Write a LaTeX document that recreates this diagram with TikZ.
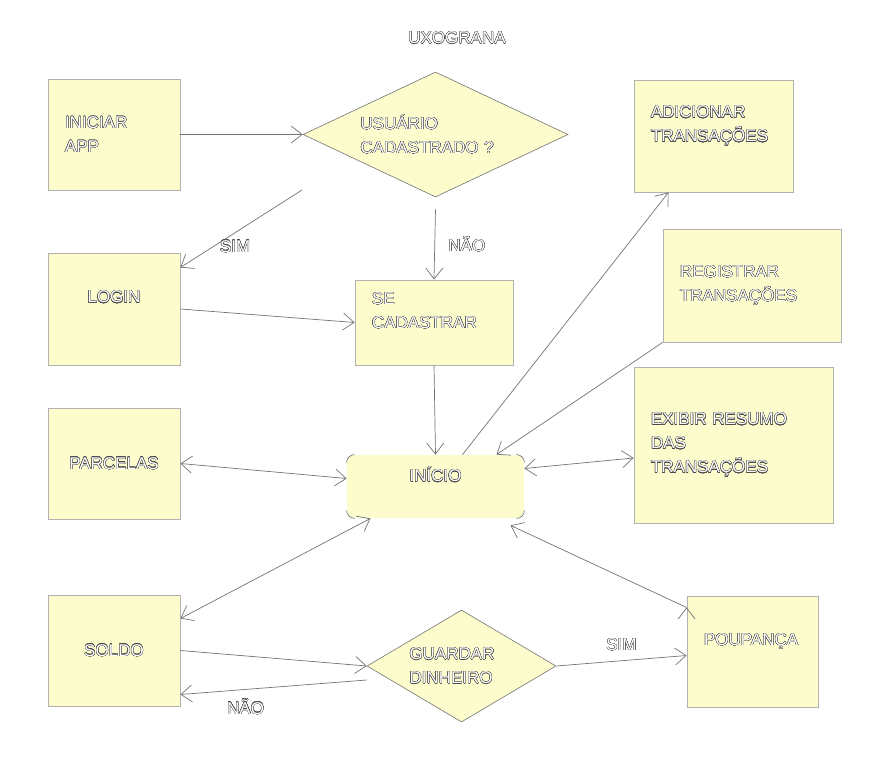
\documentclass[tikz,border=0pt]{standalone}
\usepackage{fontspec}
\setmainfont{Liberation Sans}
\usepackage{contour}
\contourlength{0.3pt}
\usetikzlibrary{shapes.geometric,arrows.meta}
\definecolor{boxfill}{RGB}{252,252,205}
\newcommand{\ct}[1]{\contour{black!70}{#1}}

\begin{document}
\begin{tikzpicture}[x=1pt,y=-1pt,>={Straight Barb[length=11pt,width=17pt]},
    box/.style={rectangle,draw=black!30,line width=0.8pt,fill=boxfill,inner xsep=17pt,inner ysep=0pt,align=left,text=white,font=\fontsize{17}{24}\selectfont},
    decision/.style={diamond,draw=black!55,line width=0.6pt,fill=boxfill,inner sep=0pt,align=left,text=white,font=\fontsize{17}{24}\selectfont},
    seta/.style={draw=black!55,line width=0.7pt},
    rotulo/.style={text=white,font=\fontsize{17}{20}\selectfont}]
    \useasboundingbox (0,0) rectangle (873,760);

    \node[rotulo] (titulo) at (457,38) {\ct{UXOGRANA}};
    \node[box,text width=98pt,minimum height=111pt] (iniciar) at (114,134.5) {\ct{INICIAR}\\\ct{APP}};
    \node[decision,aspect=2.12,text width=150pt,minimum width=265pt,minimum height=125pt] (usuario) at (435.5,134.5) {\ct{USUÁRIO}\\\ct{CADASTRADO ?}};
    \node[box,text width=125pt,minimum height=112pt] (adicionar) at (713.5,136) {\ct{ADICIONAR}\\\ct{TRANSAÇÕES}\\\mbox{}};
    \node[box,text width=98pt,minimum height=112pt,align=center] (login) at (114,309) {\ct{LOGIN}\\\mbox{}};
    \node[box,text width=124pt,minimum height=85pt] (cadastrar) at (434,322.5) {\ct{SE}\\\ct{CADASTRAR}\\\mbox{}};
    \node[box,text width=144pt,minimum height=113pt] (registrar) at (752,285.5) {\ct{REGISTRAR}\\\ct{TRANSAÇÕES}};
    \node[box,text width=98pt,minimum height=111pt,align=center] (parcelas) at (114,463.5) {\ct{PARCELAS}};
    \node[box,draw=none,rounded corners=8pt,text width=143pt,minimum height=63pt,align=center] (inicio) at (435.5,486.5) {\ct{INÍCIO}\\\mbox{}};
    \node[box,text width=165pt,minimum height=156pt] (exibir) at (733.5,445) {\ct{EXIBIR RESUMO}\\\ct{DAS}\\\ct{TRANSAÇÕES}};
    \node[box,text width=98pt,minimum height=111pt,align=center] (soldo) at (114,650.5) {\ct{SOLDO}};
    \node[decision,aspect=1.69,text width=104pt,minimum width=189pt,minimum height=112pt] (guardar) at (461.5,666) {\ct{GUARDAR}\\\ct{DINHEIRO}};
    \node[box,text width=97pt,minimum height=111pt] (poupanca) at (752.5,651.5) {\ct{POUPANÇA}\\\mbox{}};

    % cantos do inicio
    \foreach \canto/\dx/\dy/\a in {north east/-8/0/90, north west/0/-8/180, south west/8/0/270, south east/0/8/0}
        \draw[black!60,line width=0.6pt] ([xshift=\dx pt,yshift=\dy pt]inicio.\canto) arc[start angle=\a,delta angle=-90,radius=8pt];

    \coordinate (simini) at (302,190);
    \path[->,seta]
    (iniciar) edge (usuario)
    (simini) edge node[rotulo,pos=0.55,below=4pt] {\ct{SIM}} (login.32)
    ([yshift=-12pt]usuario.south) edge node[rotulo,right=10pt] {\ct{NÃO}} (cadastrar.north)
    (login.east) edge (cadastrar.west)
    (cadastrar.south) edge (inicio.north)
    ([xshift=27pt]inicio.north) edge ([xshift=-45pt]adicionar.south)
    (registrar.south west) edge ([xshift=61pt]inicio.north)
    (parcelas.east) edge[<->] ([yshift=8pt]inicio.west)
    ([yshift=18pt]inicio.east) edge[<->] ([yshift=-13pt]exibir.west)
    ([xshift=-65pt]inicio.south) edge[<->] ([yshift=32pt]soldo.east)
    (soldo.east) edge (guardar.west)
    ([yshift=-14pt]guardar.west) edge node[rotulo,pos=0.65,below=6pt] {\ct{NÃO}} ([yshift=-44pt]soldo.east)
    (guardar.east) edge node[rotulo,above=6pt] {\ct{SIM}} ([yshift=-4pt]poupanca.west)
    ([yshift=44pt]poupanca.west) edge ([xshift=75pt,yshift=-7pt]inicio.south)
    ;
\end{tikzpicture}
\end{document}
